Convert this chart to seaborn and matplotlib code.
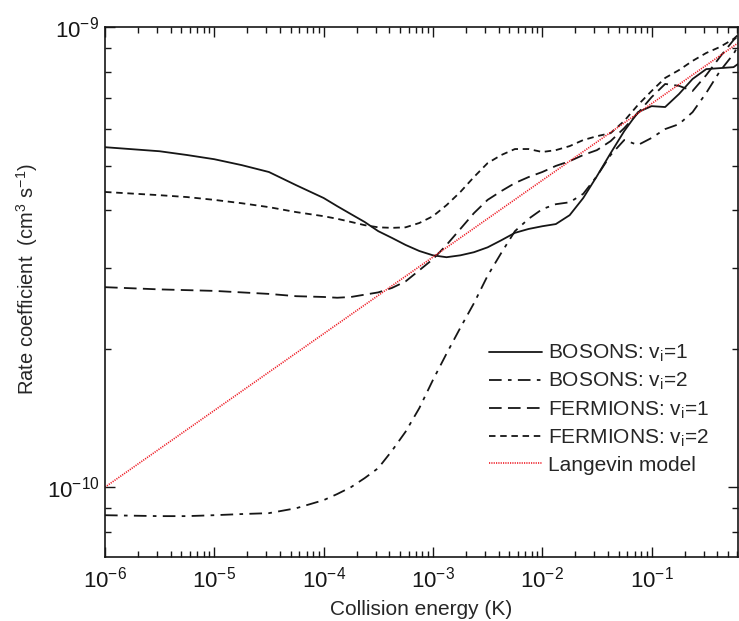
import numpy as np
import pandas as pd
import matplotlib
matplotlib.use("Agg")
import matplotlib.pyplot as plt
import seaborn as sns
from matplotlib.ticker import FixedLocator, LogLocator, NullFormatter, LogFormatterSciNotation

# ---- data ----
energy = [1e-6, 3.16e-6, 5.62e-6, 1e-5, 1.78e-5, 3.16e-5, 5.62e-5, 1e-4, 1.33e-4,
          1.78e-4, 2.37e-4, 3.16e-4, 4.22e-4, 5.62e-4, 7.5e-4, 1e-3, 1.33e-3,
          1.78e-3, 2.37e-3, 3.16e-3, 4.22e-3, 5.62e-3, 7.5e-3, 1e-2, 1.33e-2,
          1.78e-2, 2.37e-2, 3.16e-2, 4.22e-2, 5.62e-2, 7.5e-2, 0.1, 0.133, 0.178,
          0.237, 0.316, 0.422, 0.562, 0.617]

bosons_v1 = [5.48e-10, 5.37e-10, 5.27e-10, 5.16e-10, 5.01e-10, 4.84e-10, 4.53e-10,
             4.25e-10, 4.08e-10, 3.92e-10, 3.77e-10, 3.60e-10, 3.48e-10, 3.36e-10,
             3.26e-10, 3.19e-10, 3.16e-10, 3.19e-10, 3.24e-10, 3.32e-10, 3.44e-10,
             3.57e-10, 3.64e-10, 3.69e-10, 3.73e-10, 3.90e-10, 4.25e-10, 4.74e-10,
             5.32e-10, 5.94e-10, 6.53e-10, 6.73e-10, 6.70e-10, 7.15e-10, 7.71e-10,
             8.10e-10, 8.14e-10, 8.18e-10, 8.31e-10]

bosons_v2 = [8.69e-11, 8.65e-11, 8.65e-11, 8.69e-11, 8.74e-11, 8.78e-11, 9.00e-11,
             9.37e-11, 9.66e-11, 1.00e-10, 1.046e-10, 1.10e-10, 1.20e-10, 1.32e-10,
             1.485e-10, 1.71e-10, 1.95e-10, 2.22e-10, 2.51e-10, 2.88e-10, 3.23e-10,
             3.60e-10, 3.83e-10, 4.02e-10, 4.12e-10, 4.16e-10, 4.34e-10, 4.74e-10,
             5.27e-10, 5.68e-10, 5.54e-10, 5.74e-10, 6.00e-10, 6.15e-10, 6.53e-10,
             7.19e-10, 8.02e-10, 8.74e-10, 9.09e-10]

fermions_v1 = [2.72e-10, 2.69e-10, 2.68e-10, 2.67e-10, 2.65e-10, 2.63e-10, 2.60e-10,
               2.59e-10, 2.58e-10, 2.59e-10, 2.62e-10, 2.65e-10, 2.71e-10, 2.80e-10,
               2.96e-10, 3.13e-10, 3.36e-10, 3.64e-10, 3.94e-10, 4.21e-10, 4.40e-10,
               4.58e-10, 4.72e-10, 4.84e-10, 4.99e-10, 5.11e-10, 5.27e-10, 5.40e-10,
               5.65e-10, 6.03e-10, 6.50e-10, 7.04e-10, 7.52e-10, 7.45e-10, 7.26e-10,
               7.86e-10, 8.61e-10, 9.37e-10, 9.56e-10]

fermions_v2 = [4.38e-10, 4.31e-10, 4.27e-10, 4.21e-10, 4.14e-10, 4.06e-10, 3.96e-10,
               3.88e-10, 3.83e-10, 3.77e-10, 3.71e-10, 3.67e-10, 3.66e-10, 3.67e-10,
               3.75e-10, 3.88e-10, 4.10e-10, 4.38e-10, 4.72e-10, 5.06e-10, 5.27e-10,
               5.43e-10, 5.43e-10, 5.35e-10, 5.40e-10, 5.51e-10, 5.68e-10, 5.79e-10,
               5.88e-10, 6.25e-10, 6.77e-10, 7.26e-10, 7.75e-10, 8.06e-10, 8.44e-10,
               8.78e-10, 9.05e-10, 9.42e-10, 9.61e-10]

langevin_energy = [1e-6, 0.617]
langevin_rate = [1.0e-10, 9.23e-10]

x_major_ticks = [1e-6, 1e-5, 1e-4, 1e-3, 1e-2, 1e-1]
y_major_ticks = [1e-10, 1e-9]

labels = ["BOSONS: v$_\\mathrm{i}$=1", "BOSONS: v$_\\mathrm{i}$=2",
          "FERMIONS: v$_\\mathrm{i}$=1", "FERMIONS: v$_\\mathrm{i}$=2",
          "Langevin model"]

# ---- style ----
sns.set_theme(style="ticks")
plt.rcParams["font.family"] = ["Liberation Sans", "DejaVu Sans"]
plt.rcParams["mathtext.fontset"] = "custom"
plt.rcParams["mathtext.rm"] = "Liberation Sans"
plt.rcParams["mathtext.it"] = "Liberation Sans:italic"
plt.rcParams["mathtext.bf"] = "Liberation Sans:bold"
plt.rcParams["mathtext.default"] = "regular"

fig = plt.figure(figsize=(7.39, 6.21), dpi=100)
ax = fig.add_axes([105/739, 1-557/621, 633/739, 530/621])

df = pd.DataFrame({"E": energy, "b1": bosons_v1, "b2": bosons_v2,
                   "f1": fermions_v1, "f2": fermions_v2})

ink = "#161616"
lw = 1.3
sns.lineplot(data=df, x="E", y="b1", ax=ax, color=ink, lw=lw,
             label=labels[0], linestyle="-")
sns.lineplot(data=df, x="E", y="b2", ax=ax, color=ink, lw=lw,
             label=labels[1], linestyle=(0, (7, 3.5, 2, 3.5)))
sns.lineplot(data=df, x="E", y="f1", ax=ax, color=ink, lw=lw,
             label=labels[2], linestyle=(0, (7, 3.5)))
sns.lineplot(data=df, x="E", y="f2", ax=ax, color=ink, lw=lw,
             label=labels[3], linestyle=(0, (3.6, 2.6)))
sns.lineplot(x=langevin_energy, y=langevin_rate, ax=ax, color="#ee1c25", lw=1.2,
             label=labels[4], linestyle=(0, (0.7, 0.7)))

ax.set_xscale("log")
ax.set_yscale("log")
ax.set_xlim(1e-6, 0.617)
ax.set_ylim(7.05e-11, 1e-9)

ax.xaxis.set_major_locator(FixedLocator(x_major_ticks))
ax.yaxis.set_major_locator(FixedLocator(y_major_ticks))
ax.xaxis.set_major_formatter(LogFormatterSciNotation())
ax.yaxis.set_major_formatter(LogFormatterSciNotation())
ax.xaxis.set_minor_locator(LogLocator(base=10, subs=np.arange(2, 10), numticks=20))
ax.yaxis.set_minor_locator(LogLocator(base=10, subs=np.arange(2, 10), numticks=20))
ax.xaxis.set_minor_formatter(NullFormatter())
ax.yaxis.set_minor_formatter(NullFormatter())

ax.tick_params(which="both", direction="in", top=True, right=True,
               width=1.0, colors=ink, labelsize=16)
ax.tick_params(which="major", length=7)
ax.tick_params(axis="x", which="major", pad=7)
ax.tick_params(axis="y", which="major", pad=4)
ax.tick_params(which="minor", length=4)
for s in ax.spines.values():
    s.set_linewidth(1.2)
    s.set_color(ink)

ax.set_xlabel("Collision energy (K)", fontsize=15, labelpad=5)
ax.set_ylabel("Rate coefficient  (cm$^3$ s$^{-1}$)", fontsize=14.5)
ax.yaxis.set_label_coords(-0.102, 0.525)

leg = ax.legend(loc="upper left", bbox_to_anchor=(0.607, 0.404), frameon=False,
                fontsize=15, handlelength=2.55, handletextpad=0.25,
                labelspacing=0.33, borderpad=0, borderaxespad=0)

fig.savefig("out.png", dpi=100)
